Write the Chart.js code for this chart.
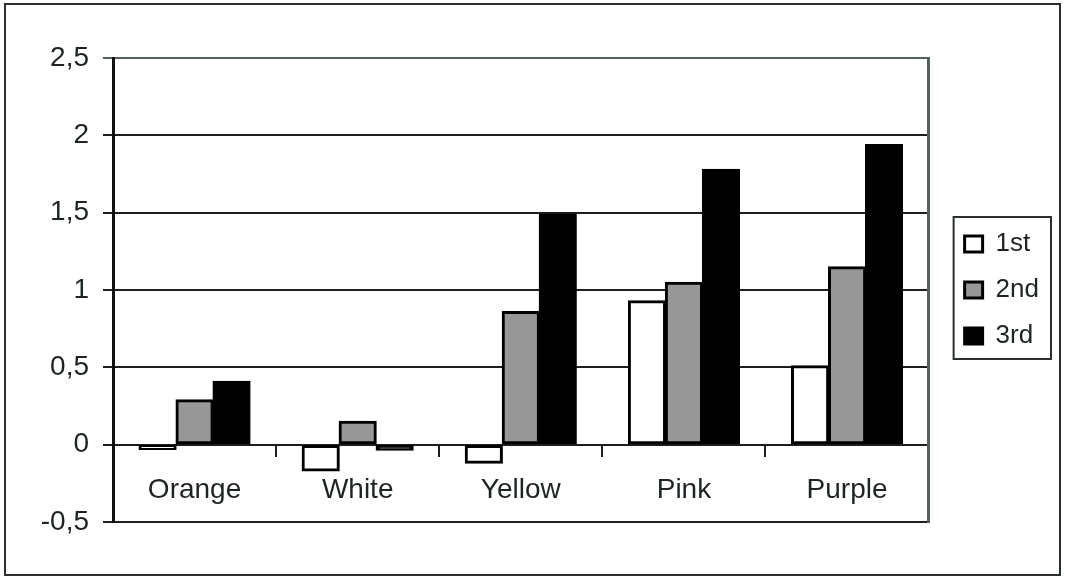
<!DOCTYPE html>
<html>
<head>
<meta charset="utf-8">
<script src="https://cdn.jsdelivr.net/npm/chart.js@4/dist/chart.umd.min.js"></script>
<style>
  html, body { margin: 0; padding: 0; background: #fff; }
  #wrap { width: 1065px; height: 579px; }
</style>
</head>
<body>
<div id="wrap"><canvas id="c" width="1065" height="579"></canvas></div>
<script>
// Flower colour groups and the three measurement rounds
const categories = ['Orange', 'White', 'Yellow', 'Pink', 'Purple'];
const firstRound  = [-0.03, -0.17, -0.12, 0.93, 0.51];
const secondRound = [0.29, 0.15, 0.86, 1.05, 1.15];
const thirdRound  = [0.41, -0.035, 1.49, 1.78, 1.94];
const seriesNames = ['1st', '2nd', '3rd'];
const yTickValues = [-0.5, 0, 0.5, 1, 1.5, 2, 2.5];

const FONT = '"Liberation Sans", Arial, sans-serif';
const INK = '#1e2424';
const FRAME = '#56605f';

// Outer frame of the whole figure and a border round the legend entries
const framePlugin = {
  id: 'frames',
  afterDraw(chart) {
    const ctx = chart.ctx;
    ctx.save();
    ctx.strokeStyle = '#2a2f2f';
    ctx.lineWidth = 2;
    ctx.strokeRect(5, 4, 1055, 571);
    const boxes = chart.legend && chart.legend.legendHitBoxes;
    if (boxes && boxes.length) {
      const left = Math.min(...boxes.map(b => b.left)) - 11;
      const top = Math.min(...boxes.map(b => b.top)) - 14;
      const right = Math.max(...boxes.map(b => b.left + b.width)) + 12;
      const bottom = Math.max(...boxes.map(b => b.top + b.height)) + 10;
      ctx.strokeStyle = '#2a2f2f';
      ctx.lineWidth = 2;
      ctx.strokeRect(left, top, right - left, bottom - top);
    }
    ctx.restore();
  }
};

new Chart(document.getElementById('c'), {
  type: 'bar',
  data: {
    labels: categories,
    datasets: [
      { label: seriesNames[0], data: firstRound,  backgroundColor: '#ffffff', borderColor: '#000', borderWidth: 3, borderSkipped: false, inflateAmount: 0.6 },
      { label: seriesNames[1], data: secondRound, backgroundColor: '#979797', borderColor: '#000', borderWidth: 3, borderSkipped: false, inflateAmount: 0.6 },
      { label: seriesNames[2], data: thirdRound,  backgroundColor: '#000000', borderColor: '#000', borderWidth: 3, borderSkipped: false, inflateAmount: 0.6 }
    ]
  },
  options: {
    responsive: false,
    animation: false,
    devicePixelRatio: 1,
    layout: { padding: { left: 8, top: 58, bottom: 57, right: 16 } },
    datasets: { bar: { categoryPercentage: 0.68, barPercentage: 1.0 } },
    plugins: {
      tooltip: { enabled: false },
      legend: {
        position: 'right',
        labels: {
          font: { family: FONT, size: 26 },
          color: INK,
          boxWidth: 18,
          boxHeight: 16,
          padding: 20
        }
      }
    },
    scales: {
      x: {
        position: { y: 0 },
        grid: { drawOnChartArea: false, drawTicks: true, tickLength: 11, offset: true, color: '#1e1e1e', lineWidth: 2 },
        border: { display: true, color: '#1e1e1e', width: 2 },
        ticks: { font: { family: FONT, size: 28 }, color: INK, padding: 18 }
      },
      y: {
        min: -0.5,
        max: 2.5,
        afterFit(scale) { scale.width = 105; },
        afterBuildTicks(scale) { scale.ticks = yTickValues.map(v => ({ value: v })); },
        grid: {
          tickLength: 10,
          lineWidth: 2,
          color: ctx => (ctx.tick && ctx.tick.value === 2.5) ? FRAME : '#1e1e1e'
        },
        border: { display: true, color: '#111', width: 3 },
        ticks: {
          font: { family: FONT, size: 28 },
          color: INK,
          padding: 14,
          callback: v => String(v).replace('.', ',')
        }
      },
      yFrame: {
        position: 'right',
        afterFit(scale) { scale.width = 16; },
        grid: { display: false },
        ticks: { display: false },
        border: { display: true, color: FRAME, width: 3 }
      }
    }
  },
  plugins: [framePlugin]
});
</script>
</body>
</html>
